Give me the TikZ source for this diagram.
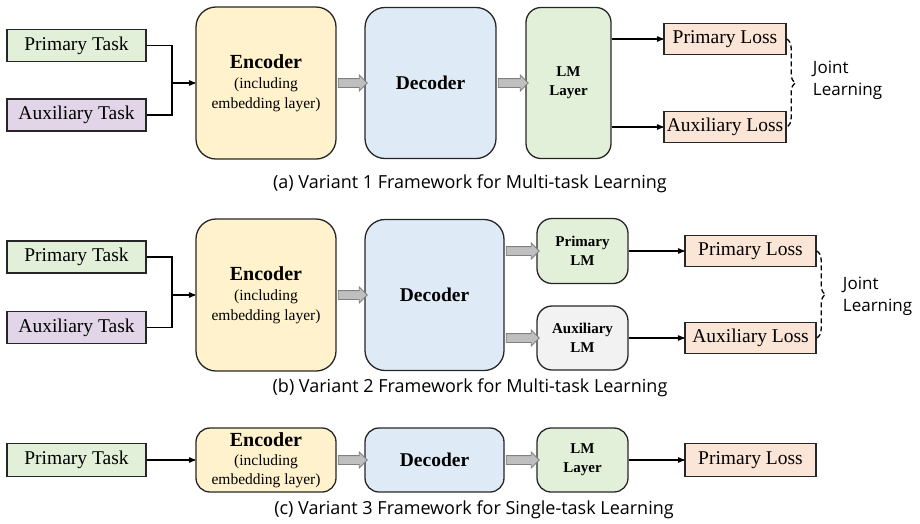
\documentclass[tikz,border=0pt]{standalone}
\usepackage{fontspec}
\setmainfont{Liberation Serif}
\newfontfamily\capfont{Open Sans}
\usetikzlibrary{arrows,shapes,positioning,decorations.pathreplacing}

\definecolor{boxline}{HTML}{262626}
\definecolor{taskgreen}{HTML}{E2F0D9}
\definecolor{taskpurple}{HTML}{E1D5E7}
\definecolor{encyellow}{HTML}{FFF2CC}
\definecolor{decblue}{HTML}{DEEBF7}
\definecolor{lossred}{HTML}{FBE5D6}
\definecolor{auxgray}{HTML}{F2F2F2}
\definecolor{arrowgray}{HTML}{BFBFBF}
\definecolor{arrowline}{HTML}{808080}

\tikzset{
  box/.style={draw=boxline, line width=1.3pt, inner sep=0pt, align=center},
  taskbox/.style={box, minimum width=139pt, minimum height=32pt, font=\fontsize{19.5}{22}\selectfont},
  lossbox/.style={box, fill=lossred, minimum height=31pt, font=\fontsize{19.5}{22}\selectfont},
  encbox/.style={box, fill=encyellow, rounded corners=20pt, minimum width=140pt, font=\fontsize{15.5}{20}\selectfont},
  decbox/.style={box, fill=decblue, rounded corners=20pt, font=\bfseries\fontsize{19.5}{22}\selectfont},
  lmbox/.style={box, fill=taskgreen, rounded corners=15pt, font=\bfseries\fontsize{15}{19}\selectfont},
  fatarrow/.style={single arrow, draw=arrowline, fill=arrowgray, line width=0.8pt,
    minimum height=#1, inner xsep=0pt, inner ysep=4pt, single arrow head extend=3.5pt},
  fatarrow/.default=29pt,
  joint/.style={draw=black, line width=1.3pt, dash pattern=on 5pt off 3pt,
    decorate, decoration={brace, amplitude=9pt}},
  jointtext/.style={align=left, font=\capfont\fontsize{17}{22}\selectfont, anchor=west},
  captext/.style={font=\capfont\fontsize{18}{20}\selectfont},
}

\newcommand{\enctext}{{\bfseries\fontsize{20}{23}\selectfont Encoder}\\(including\\embedding layer)}

\begin{document}
\begin{tikzpicture}[x=1pt,y=1pt,->,>=stealth',line width=1.3pt,node distance=20pt]
\useasboundingbox (0,0) rectangle (920,-523);

% (a) variant 1
\node[taskbox, fill=taskgreen]  (pt1) at (76.5,-45.5) {Primary Task};
\node[taskbox, fill=taskpurple] (at1) [below of=pt1, yshift=-49.5pt] {Auxiliary Task};
\node[encbox, minimum height=152pt] (enc1) [right of=pt1, xshift=169.5pt, yshift=-37.5pt] {\enctext};
\node[decbox, minimum width=131pt, minimum height=151pt] (dec1) [right of=enc1, xshift=144.5pt] {Decoder};
\node[lmbox, minimum width=85pt, minimum height=151pt] (lm1) [right of=dec1, xshift=118pt] {LM\\Layer};
\node[lossbox, minimum width=122pt] (pl1) [right of=lm1, xshift=136.5pt, yshift=44pt] {Primary Loss};
\node[lossbox, minimum width=122pt] (al1) [below of=pl1, yshift=-68pt] {Auxiliary Loss};
\node[jointtext] (jl1) at (809,-80) {Joint\\Learning};
\node[captext] (cap1) at (470,-184) {(a) Variant 1 Framework for Multi-task Learning};

\coordinate (j1) at (172,-83);
\draw[-] (pt1.east) -| (j1) |- (at1.east);
\draw (j1) -- (enc1.west);
\path (enc1.east) -- (dec1.west) node[midway, fatarrow] {};
\path (dec1.east) -- (lm1.west) node[midway, fatarrow=30pt] {};
\draw (lm1.east |- pl1.west) -- (pl1.west);
\draw (lm1.east |- al1.west) -- (al1.west);
\draw[-, joint] (pl1.east) -- (al1.east);

% (b) variant 2
\node[taskbox, fill=taskgreen]  (pt2) at (76.5,-257) {Primary Task};
\node[taskbox, fill=taskpurple] (at2) [below of=pt2, yshift=-50.5pt] {Auxiliary Task};
\node[encbox, minimum height=152pt] (enc2) [right of=pt2, xshift=169.5pt, yshift=-38pt] {\enctext};
\node[decbox, minimum width=139pt, minimum height=151pt] (dec2) [right of=enc2, xshift=148.5pt] {Decoder};
\node[lmbox, minimum width=91pt, minimum height=65pt] (plm2) [right of=dec2, xshift=128pt, yshift=44pt] {Primary\\LM};
\node[lmbox, fill=auxgray, minimum width=91pt, minimum height=64pt] (alm2) [below of=plm2, yshift=-67pt] {Auxiliary\\LM};
\node[lossbox, minimum width=131pt] (pl2) [right of=plm2, xshift=148pt] {Primary Loss};
\node[lossbox, minimum width=131pt] (al2) [right of=alm2, xshift=148pt] {Auxiliary Loss};
\node[jointtext] (jl2) at (839,-296) {Joint\\Learning};
\node[captext] (cap2) at (470,-388) {(b) Variant 2 Framework for Multi-task Learning};

\coordinate (j2) at (172,-295);
\draw[-] (pt2.east) -| (j2) |- (at2.east);
\draw (j2) -- (enc2.west);
\path (enc2.east) -- (dec2.west) node[midway, fatarrow] {};
\path (dec2.east |- plm2.west) -- (plm2.west) node[midway, fatarrow=33pt] {};
\path (dec2.east |- alm2.west) -- (alm2.west) node[midway, fatarrow=33pt] {};
\draw (plm2) -- (pl2);
\draw (alm2) -- (al2);
\draw[-, joint] (pl2.east) -- (al2.east);

% (c) variant 3
\node[taskbox, fill=taskgreen, minimum height=33pt] (pt3) at (76.5,-460) {Primary Task};
\node[encbox, rounded corners=14pt, minimum height=64pt, font=\fontsize{15.5}{19}\selectfont] (enc3) [right of=pt3, xshift=169.5pt] {\enctext};
\node[decbox, rounded corners=14pt, minimum width=139pt, minimum height=64pt] (dec3) [right of=enc3, xshift=148.5pt] {Decoder};
\node[lmbox, rounded corners=14pt, minimum width=91pt, minimum height=64pt] (lm3) [right of=dec3, xshift=128pt] {LM\\Layer};
\node[lossbox, minimum width=131pt, minimum height=33pt] (pl3) [right of=lm3, xshift=148pt] {Primary Loss};
\node[captext] (cap3) at (474,-510) {(c) Variant 3 Framework for Single-task Learning};

\draw (pt3) -- (enc3);
\path (enc3.east) -- (dec3.west) node[midway, fatarrow] {};
\path (dec3.east) -- (lm3.west) node[midway, fatarrow=33pt] {};
\draw (lm3) -- (pl3);
\end{tikzpicture}
\end{document}
